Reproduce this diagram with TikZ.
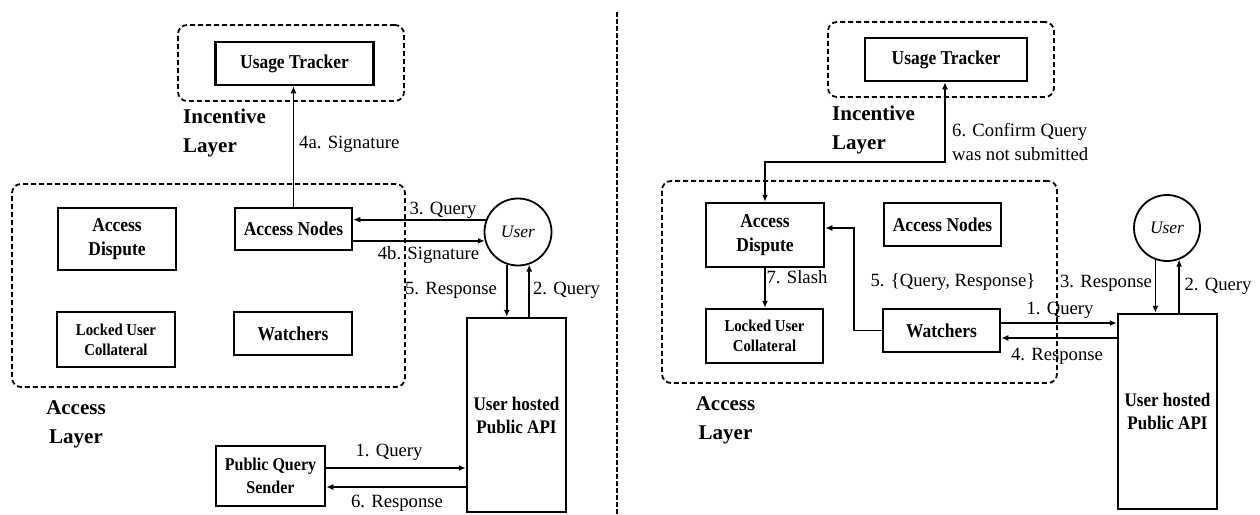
\documentclass[tikz,border=0pt]{standalone}
\usepackage{fontspec}
\setmainfont{Liberation Serif}
\newfontfamily\boxfont{Liberation Serif}[FakeStretch=0.89]
\usetikzlibrary{arrows.meta,calc}
\begin{document}
\begin{tikzpicture}[x=1pt,y=-1pt,
  box/.style={draw,line width=2.5pt,align=center,inner sep=0pt,
    font=\boxfont\fontsize{19.6}{24}\selectfont\bfseries},
  smallbox/.style={box,font=\boxfont\fontsize{16.6}{20}\selectfont\bfseries},
  pqbox/.style={box,font=\boxfont\fontsize{18}{23}\selectfont\bfseries},
  apibox/.style={box,font=\boxfont\fontsize{19.2}{23}\selectfont\bfseries},
  usr/.style={draw,circle,line width=1.8pt,minimum size=67pt,inner sep=0pt,
    font=\fontsize{17.5}{20}\selectfont\itshape},
  layerbox/.style={draw,line width=1.8pt,dash pattern=on 5pt off 3pt,rounded corners=9pt,inner sep=0pt},
  laytext/.style={font=\fontsize{21}{29}\selectfont\bfseries,inner sep=0pt},
  lbl/.style={font=\fontsize{18.7}{23.5}\selectfont,inner sep=0pt},
  arr/.style={line width=1.8pt,-{Latex[length=7pt,width=6pt]}},
  dbl/.style={line width=1.8pt,{Latex[length=7pt,width=6pt]}-{Latex[length=7pt,width=6pt]}},
  sepline/.style={line width=1.8pt,dash pattern=on 5pt off 2pt}
]
\useasboundingbox (0,0) rectangle (1260,514);

% ---------------- left panel ----------------
\node[layerbox,minimum width=226pt,minimum height=76pt] (incl) at (291,63) {};
\node[layerbox,minimum width=393pt,minimum height=203pt] (accl) at (208.5,285.5) {};

\node[box,minimum width=158pt,minimum height=43pt] (ut1) at (294.5,63.5) {Usage Tracker};
\node[laytext,anchor=west,align=left] (il1) at (183,132.5) {Incentive\\Layer};
\node[box,minimum width=117pt,minimum height=42pt] (an1) at (293.5,229) {Access Nodes};
\node[box,minimum width=118pt,minimum height=62pt] (ad1) at (117,239) {Access\\Dispute};
\node[smallbox,minimum width=118pt,minimum height=55pt] (lc1) at (116,339.5) {Locked User\\Collateral};
\node[box,minimum width=118pt,minimum height=43pt] (w1) at (293,333.5) {Watchers};
\node[laytext,align=center] (al1) at (76,424.5) {Access\\Layer};
\node[usr] (u1) at (518,232) {User};
\node[apibox,minimum width=99pt,minimum height=194pt] (api1) at (516.5,415) {User hosted\\Public API};
\node[pqbox,minimum width=109pt,minimum height=60pt] (pqs) at (270.5,476) {Public Query\\Sender};

\draw[arr] (an1.north) -- (an1.north |- ut1.south);
\node[lbl,anchor=west] (l4a) at (299,144) {4a. Signature};

\draw[arr] (u1.159) -- (an1.east |- u1.159);
\node[lbl] (l3q) at (443,210) {3. Query};
\draw[arr] (an1.east |- u1.195) -- (u1.195);
\node[lbl] (l4b) at (428.5,255.5) {4b. Signature};

\draw[arr] (u1.251) -- (u1.251 |- api1.north);
\node[lbl] (l5r) at (451,290) {5. Response};
\draw[arr] (u1.289 |- api1.north) -- (u1.289);
\node[lbl] (l2q) at (566.5,290) {2. Query};

\coordinate (y1q) at (0,468);
\coordinate (y6r) at (0,487);
\draw[arr] (pqs.east |- y1q) -- (api1.west |- y1q);
\node[lbl] (l1q) at (389,452) {1. Query};
\draw[arr] (api1.west |- y6r) -- (pqs.east |- y6r);
\node[lbl] (l6r) at (397,503) {6. Response};

% separator
\coordinate (s0) at (617,12);
\coordinate (s1) at (617,514);
\draw[sepline] (s0) -- (s1);

% ---------------- right panel ----------------
\node[layerbox,minimum width=226pt,minimum height=75pt] (incr) at (941,59.5) {};
\node[layerbox,minimum width=395pt,minimum height=202pt] (accr) at (859.5,282) {};

\node[box,minimum width=162pt,minimum height=43pt] (ut2) at (946,59.5) {Usage Tracker};
\node[laytext,anchor=west,align=left] (il2) at (832,129.5) {Incentive\\Layer};
\node[box,minimum width=118pt,minimum height=64pt] (ad2) at (765,235) {Access\\Dispute};
\node[box,minimum width=117pt,minimum height=43pt] (an2) at (942.5,224.5) {Access Nodes};
\node[smallbox,minimum width=117pt,minimum height=54pt] (lc2) at (764.5,336) {Locked User\\Collateral};
\node[box,minimum width=117pt,minimum height=43pt] (w2) at (941.5,330.5) {Watchers};
\node[laytext,align=center] (al2) at (725.5,420) {Access\\Layer};
\node[usr,minimum size=66pt] (u2) at (1167,228) {User};
\node[apibox,minimum width=99pt,minimum height=195pt] (api2) at (1167.5,411.5) {User hosted\\Public API};

\coordinate (k6) at (945,162);
\draw[dbl] (ut2.south -| k6) -- (k6) -| (ad2.north);
\node[lbl,anchor=west,align=left] (l6c) at (952,142) {6. Confirm Query\\was not submitted};

\draw[arr] (ad2.south) -- (lc2.north -| ad2.south);
\node[lbl] (l7s) at (797,277) {7. Slash};

\coordinate (k5) at (854,228);
\draw[arr] (w2.west) -| (k5) -- (ad2.east |- k5);
\node[lbl] (l5q) at (953,282) {5. \{Query, Response\}};

\coordinate (y1r) at (0,323);
\coordinate (y4r) at (0,338);
\draw[arr] (w2.east |- y1r) -- (api2.west |- y1r);
\node[lbl] (l1r) at (1060,310) {1. Query};
\draw[arr] (api2.west |- y4r) -- (w2.east |- y4r);
\node[lbl] (l4r) at (1057,356) {4. Response};

\draw[arr] (u2.250) -- (u2.250 |- api2.north);
\node[lbl] (l3r) at (1106,283) {3. Response};
\draw[arr] (u2.291 |- api2.north) -- (u2.291);
\node[lbl] (l2r) at (1218,286) {2. Query};
\end{tikzpicture}
\end{document}
